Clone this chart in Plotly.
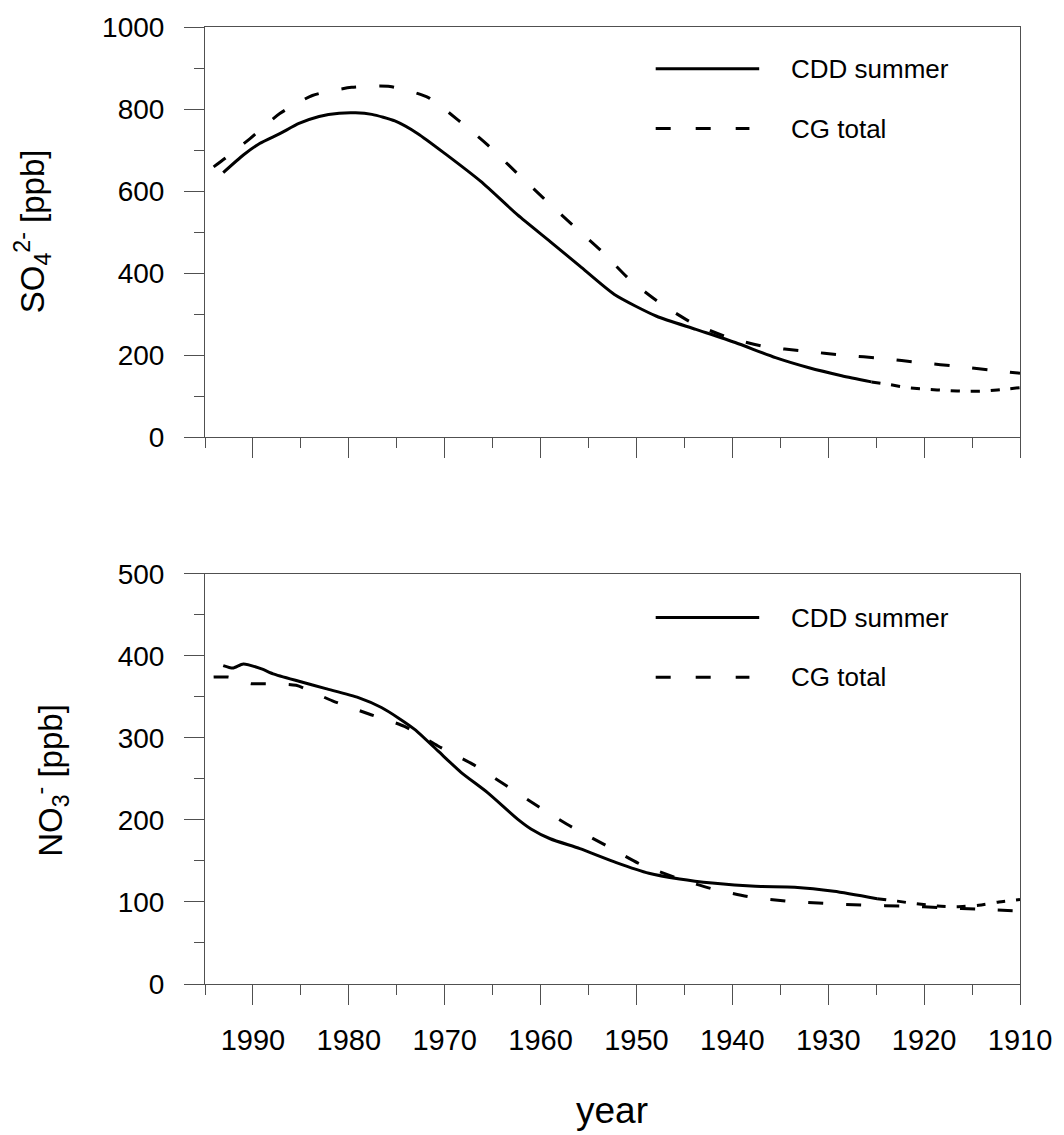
import plotly.graph_objects as go

# ---------------- data ----------------
# Top panel: SO4 2-
so4_cdd_years = [1993.1, 1991.0, 1989.3, 1987.2, 1985.2, 1983.1, 1981.0, 1979.3, 1977.6, 1975.2,
                 1972.8, 1970.0, 1966.2, 1962.4, 1959.0, 1955.9, 1952.3, 1947.9, 1943.8, 1939.7,
                 1935.5, 1932.1, 1928.6, 1925.5]
so4_cdd_vals = [645, 688, 716, 740, 765, 782, 790, 791, 787, 771,
                740, 692, 623, 542, 477, 417, 348, 295, 263, 231,
                194, 170, 150, 135]
so4_cdd_ext_years = [1925.5, 1923.5, 1921.8, 1919.7, 1917.6, 1915.5, 1913.5, 1911.2, 1910.0]
so4_cdd_ext_vals = [135, 128, 121, 117, 114, 112, 113, 118, 121]

so4_cg_years = [1994.1, 1992.9, 1990.3, 1987.2, 1983.8, 1979.7, 1975.7, 1971.7, 1968.6, 1965.5,
                1962.6, 1959.7, 1956.7, 1953.7, 1950.7, 1947.6, 1944.2, 1940.4, 1936.6, 1932.5,
                1928.3, 1924.3, 1920.4, 1916.2, 1912.3, 1910.0]
so4_cg_vals = [659, 680, 728, 789, 833, 853, 855, 828, 773, 712,
               647, 583, 518, 455, 384, 328, 279, 243, 221, 210,
               200, 192, 182, 172, 162, 156]

# Bottom panel: NO3-
no3_cdd_years = [1993.1, 1992.1, 1991.0, 1989.1, 1987.9, 1985.2, 1982.4, 1979.0, 1976.6, 1974.8,
                 1973.1, 1970.7, 1968.3, 1965.5, 1962.4, 1961.0, 1959.0, 1955.9, 1952.1, 1948.7,
                 1945.5, 1942.1, 1937.6, 1933.5, 1929.4, 1924.9]
no3_cdd_vals = [388, 385, 390, 384, 378, 369, 360, 349, 337, 324,
                310, 284, 258, 233, 201, 189, 177, 165, 148, 135,
                128, 123, 119, 118, 113, 104]
no3_cdd_ext_years = [1924.9, 1922.8, 1921.0, 1918.6, 1916.6, 1914.3, 1912.2, 1910.0]
no3_cdd_ext_vals = [104, 101, 98, 95, 94, 96, 100, 103]

no3_cg_years = [1994.1, 1992.6, 1990.2, 1988.6, 1985.5, 1981.7, 1977.9, 1974.2, 1970.7, 1967.1,
                1963.6, 1960.2, 1956.7, 1953.2, 1949.6, 1945.5, 1942.1, 1938.1, 1934.2, 1930.1,
                1926.2, 1922.0, 1918.1, 1914.1, 1910.0]
no3_cg_vals = [374, 374, 366, 366, 364, 345, 329, 314, 290, 268,
               242, 216, 191, 169, 146, 128, 116, 106, 101, 98,
               96, 95, 93, 91, 89]

x_range = [1995, 1910]
x_tickvals = [1990, 1980, 1970, 1960, 1950, 1940, 1930, 1920, 1910]
x_ticklabels = ["1990", "1980", "1970", "1960", "1950", "1940", "1930", "1920", "1910"]
so4_ticks = [0, 200, 400, 600, 800, 1000]
no3_ticks = [0, 100, 200, 300, 400, 500]
legend_labels = ["CDD summer", "CG total"]

# ---------------- figure ----------------
FONT = "Liberation Sans, Arial, sans-serif"
AX = "#505050"
LW = 3
DASH = "15px,23px"
DOT = "9px,11px"

fig = go.Figure()

def add(x, y, dash, xa, ya):
    fig.add_trace(go.Scatter(x=x, y=y, mode="lines", xaxis=xa, yaxis=ya,
                             line=dict(color="black", width=LW, dash=dash,
                                       shape="spline", smoothing=0.6),
                             showlegend=False, hoverinfo="skip"))

add(so4_cg_years, so4_cg_vals, DASH, "x", "y")
add(so4_cdd_years, so4_cdd_vals, "solid", "x", "y")
add(so4_cdd_ext_years, so4_cdd_ext_vals, DOT, "x", "y")
add(no3_cg_years, no3_cg_vals, DASH, "x2", "y2")
add(no3_cdd_years, no3_cdd_vals, "solid", "x2", "y2")
add(no3_cdd_ext_years, no3_cdd_ext_vals, DOT, "x2", "y2")

top_dom = [549 / 961, 1.0]
bot_dom = [0.0, 412 / 961]

xcommon = dict(range=x_range, tickmode="array", tickvals=x_tickvals,
               showline=True, linecolor=AX, linewidth=1, mirror=True,
               ticks="outside", ticklen=20, tickcolor=AX, tickwidth=1,
               showgrid=False, zeroline=False,
               minor=dict(dtick=5, tick0=1995, ticks="outside", ticklen=10,
                          tickcolor=AX, tickwidth=1, showgrid=False),
               tickfont=dict(family=FONT, size=29, color="black"))

ycommon = dict(showline=True, linecolor=AX, linewidth=1, mirror=True,
               ticks="outside", ticklen=20, tickcolor=AX, tickwidth=1,
               showgrid=False, zeroline=False, ticklabelstandoff=14,
               tickfont=dict(family=FONT, size=28, color="black"))

fig.update_layout(
    width=1064, height=1135,
    margin=dict(l=205, r=39, t=23, b=151),
    paper_bgcolor="white", plot_bgcolor="white",
    showlegend=False,
    xaxis=dict(domain=[0, 1], anchor="y", showticklabels=False, **xcommon),
    xaxis2=dict(domain=[0, 1], anchor="y2", ticktext=x_ticklabels,
                ticklabelstandoff=10, **xcommon),
    yaxis=dict(domain=top_dom, anchor="x", range=[0, 1000], tickvals=so4_ticks,
               minor=dict(dtick=100, tick0=0, ticks="outside", ticklen=10,
                          tickcolor=AX, tickwidth=1, showgrid=False),
               **ycommon),
    yaxis2=dict(domain=bot_dom, anchor="x2", range=[0, 500], tickvals=no3_ticks,
                minor=dict(dtick=50, tick0=0, ticks="outside", ticklen=10,
                           tickcolor=AX, tickwidth=1, showgrid=False),
                **ycommon),
)

# legend samples (drawn as shapes) and texts
def legend(xref, yref, y_solid, y_dash):
    fig.add_shape(type="line", xref=xref, yref=yref, x0=0.553, x1=0.680,
                  y0=y_solid, y1=y_solid, line=dict(color="black", width=LW))
    fig.add_shape(type="line", xref=xref, yref=yref, x0=0.553, x1=0.668,
                  y0=y_dash, y1=y_dash, line=dict(color="black", width=LW, dash="15px,25px"))
    for lab, yy in zip(legend_labels, [y_solid, y_dash]):
        fig.add_annotation(text=lab, xref=xref, yref=yref, x=0.717, y=yy,
                           xanchor="left", yanchor="middle", showarrow=False,
                           font=dict(family=FONT, size=26, color="black"))

legend("x domain", "y domain", (435 - 65) / 412, (435 - 125) / 412)
legend("x2 domain", "y2 domain", (984 - 616) / 412, (984 - 676) / 412)

# axis titles
fig.add_annotation(text="SO<sub>4</sub><sup>2-</sup> [ppb]", xref="paper", yref="paper",
                   x=(31 - 205) / 820, y=(984 - 228) / 961, textangle=-90,
                   xanchor="center", yanchor="middle", showarrow=False,
                   font=dict(family=FONT, size=33, color="black"))
fig.add_annotation(text="NO<sub>3</sub><sup>-</sup> [ppb]", xref="paper", yref="paper",
                   x=(50 - 205) / 820, y=(984 - 779) / 961, textangle=-90,
                   xanchor="center", yanchor="middle", showarrow=False,
                   font=dict(family=FONT, size=33, color="black"))
fig.add_annotation(text="year", xref="paper", yref="paper",
                   x=(614 - 205) / 820, y=(984 - 1111) / 961,
                   xanchor="center", yanchor="middle", showarrow=False,
                   font=dict(family=FONT, size=37, color="black"))

fig.write_html("out.html",
               config={"displayModeBar": False},
               post_script="document.body.style.margin='0';document.body.style.overflow='hidden';")
